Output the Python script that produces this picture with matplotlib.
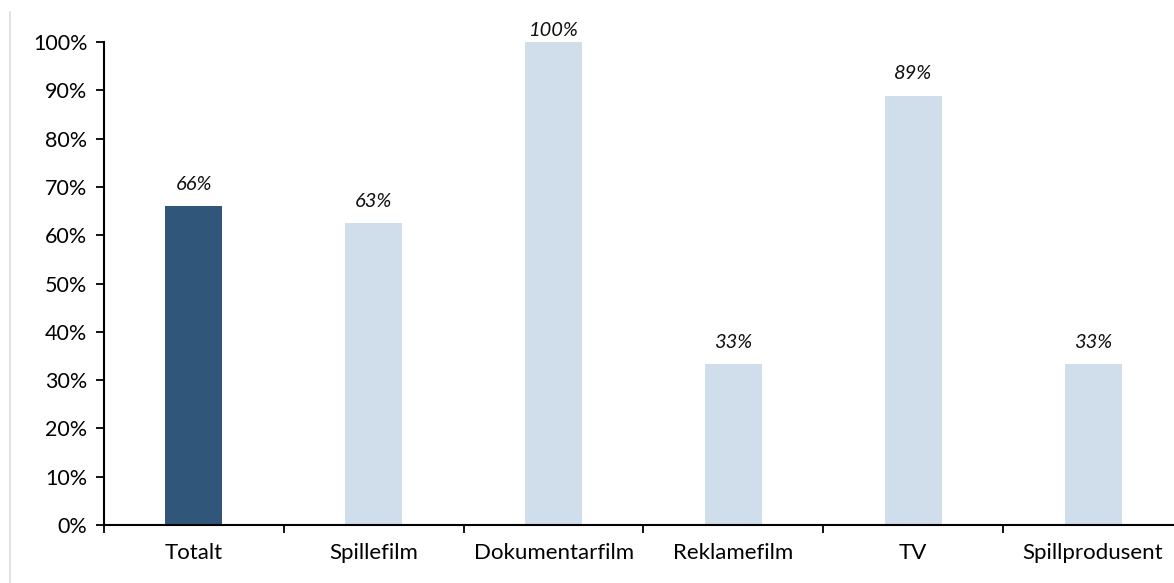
import matplotlib
matplotlib.use("Agg")
import matplotlib.pyplot as plt
from matplotlib.lines import Line2D
import numpy as np

categories = ["Totalt", "Spillefilm", "Dokumentarfilm", "Reklamefilm", "TV", "Spillprodusent"]
values = [0.66, 0.625, 1.00, 0.333, 0.889, 0.333]
labels = ["66%", "63%", "100%", "33%", "89%", "33%"]
yticks = [i / 10 for i in range(11)]
ytick_labels = [f"{i*10}%" for i in range(11)]

dark = "#30577A"
light = "#CFDEEA"
colors = [dark] + [light] * 5

plt.rcParams["font.family"] = ["Lato", "DejaVu Sans"]

fig = plt.figure(figsize=(11.74, 5.83), dpi=100)
ax = fig.add_axes([104 / 1174, 58 / 583, 1079 / 1174, 483 / 583])

x = np.arange(len(categories))
ax.bar(x, values, width=0.317, color=colors, zorder=2)
for xi, v, lab in zip(x, values, labels):
    ly = min(v + 0.045, 1.023)
    ax.text(xi, ly, lab, ha="center", va="center", fontsize=14.5,
            style="italic", color="#111111", clip_on=False)

ax.set_xlim(-0.5, len(categories) - 0.5)
ax.set_ylim(0, 1.0)
ax.set_yticks(yticks)
ax.set_yticklabels(ytick_labels, fontsize=15.5)
ax.set_xticks(x)
ax.set_xticklabels(categories, fontsize=16)
ax.set_xticks(np.arange(-0.5, len(categories), 1.0), minor=True)
ax.tick_params(axis="x", which="major", length=0, pad=13)
ax.tick_params(axis="x", which="minor", length=6, width=1.3, direction="out")
ax.tick_params(axis="y", length=6, width=1.3, direction="out", pad=6)
for s in ["top", "right"]:
    ax.spines[s].set_visible(False)
for s in ["left", "bottom"]:
    ax.spines[s].set_linewidth(1.5)
    ax.spines[s].set_color("black")

fig.add_artist(Line2D([10 / 1174, 10 / 1174], [0, 1 - 12 / 583],
                      transform=fig.transFigure, color="#D6DCE6", linewidth=1.2))

fig.savefig("out.png", dpi=100)
